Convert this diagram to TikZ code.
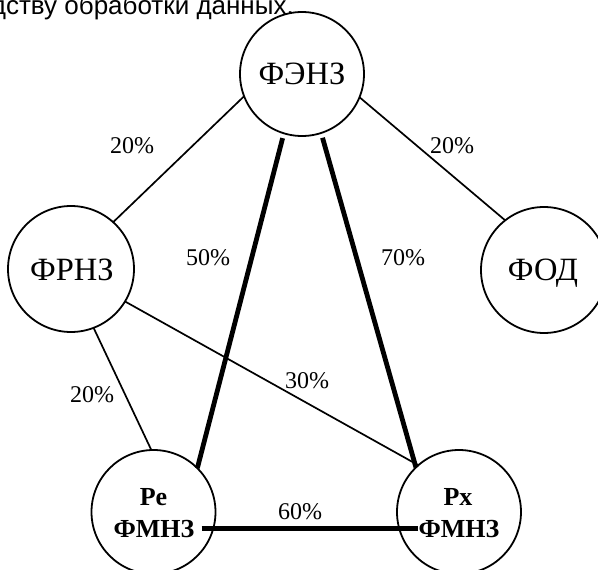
\documentclass[tikz,border=0pt]{standalone}
\usepackage{fontspec}
\setmainfont{Liberation Serif}
\newfontfamily\sansf{Liberation Sans}
\usetikzlibrary{calc}
\begin{document}
\begin{tikzpicture}[x=1pt,y=-1pt,
  circ/.style={circle,draw,line width=1.8pt,minimum size=124pt,inner sep=0pt,outer sep=0pt},
  nlabel/.style={font=\fontsize{32.5}{32.5}\selectfont,inner sep=0pt,anchor=base},
  blabel/.style={font=\fontsize{26}{26}\selectfont\bfseries,inner sep=0pt,anchor=base},
  pct/.style={font=\fontsize{24}{24}\selectfont,inner sep=0pt,anchor=base},
  thinlink/.style={line width=1.7pt},
  thicklink/.style={line width=4.8pt}]
\useasboundingbox (0,0) rectangle (598,570);

\node[font=\sansf\fontsize{26}{26}\selectfont,anchor=base east,inner sep=0pt] (cap) at (294,14) {дству обработки данных.};

\node[circ] (fenz) at (302,74) {};
\node[circ,minimum size=126pt] (frnz) at (71,269) {};
\node[circ,minimum size=126pt] (fod) at (544,270) {};
\node[circ] (re) at (153.5,512) {};
\node[circ] (rx) at (459,512) {};

\node[nlabel] (tfenz) at (302,84) {ФЭНЗ};
\node[nlabel] (tfrnz) at (72,280) {ФРНЗ};
\node[nlabel] (tfod) at (543,280) {ФОД};
\node[blabel] (tre1) at (153.5,505) {Ре};
\node[blabel] (tre2) at (154,537) {ФМНЗ};
\node[blabel] (trx1) at (458,505) {Рх};
\node[blabel] (trx2) at (459,537) {ФМНЗ};

\draw[thinlink] (fenz.201) -- (frnz.48);
\draw[thinlink] (fenz.338) -- (fod.128);
\draw[thinlink] (frnz.291) -- (re.92);
\draw[thinlink] (frnz.329) -- (rx.131);
\draw[thicklink,shorten <=5pt] (fenz.253) -- (re.45);
\draw[thicklink,shorten <=5pt] (fenz.288) -- (rx.134.5);
\draw[thicklink] ([xshift=7pt]tre2.east) -- (trx2.west);

\node[pct] (p1) at (132,153) {20\%};
\node[pct] (p2) at (452,153) {20\%};
\node[pct] (p3) at (208,265) {50\%};
\node[pct] (p4) at (403,265) {70\%};
\node[pct] (p5) at (307,388) {30\%};
\node[pct] (p6) at (92,402) {20\%};
\node[pct] (p7) at (300,519) {60\%};
\end{tikzpicture}
\end{document}
